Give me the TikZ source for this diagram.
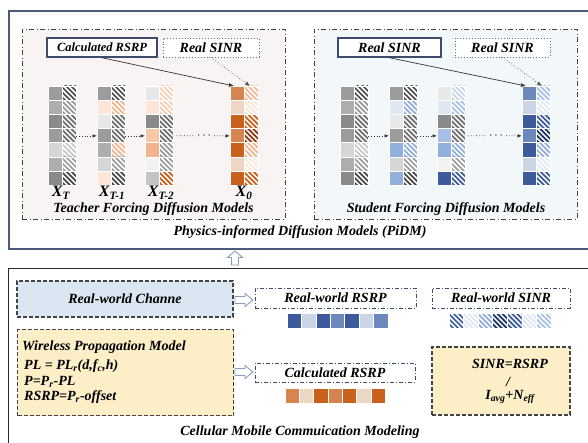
\documentclass[tikz,border=0pt]{standalone}
\usepackage{fontspec}
\setmainfont{Liberation Serif}
\usetikzlibrary{arrows.meta}

% frame and box colours
\definecolor{frameblue}{HTML}{4C5A7C}
\definecolor{framedark}{HTML}{2A2A2A}
\definecolor{paneldark}{HTML}{444444}
\definecolor{boxblue}{HTML}{3E4C6C}
\definecolor{dotblue}{HTML}{5A6A8A}
\definecolor{dashgray}{HTML}{444444}
\definecolor{arrowdark}{HTML}{333333}
\definecolor{arrowgray}{HTML}{555555}
\definecolor{hollowblue}{HTML}{8C9CBC}
\definecolor{teacherbg}{HTML}{F8F4F4}
\definecolor{studentbg}{HTML}{F2F8FA}
\definecolor{channelbg}{HTML}{DAE6F2}
\definecolor{modelbg}{HTML}{FCEFC8}
% greys
\definecolor{gA}{HTML}{8A8A8A}
\definecolor{gB}{HTML}{9C9C9C}
\definecolor{gC}{HTML}{AEAEAE}
\definecolor{gD}{HTML}{C4C4C4}
\definecolor{gE}{HTML}{D6D6D6}
\definecolor{gF}{HTML}{E8E8E8}
\definecolor{gG}{HTML}{F2F2F2}
\definecolor{hA}{HTML}{4A4A4A}
\definecolor{hB}{HTML}{6E6E6E}
\definecolor{hC}{HTML}{9A9A9A}
\definecolor{hD}{HTML}{C8C8C8}
% oranges
\definecolor{oA}{HTML}{C8601E}
\definecolor{oB}{HTML}{D5854F}
\definecolor{oC}{HTML}{F2B48E}
\definecolor{oD}{HTML}{F6C8A8}
\definecolor{oE}{HTML}{EDD6C4}
\definecolor{oF}{HTML}{FBE6D8}
\definecolor{oG}{HTML}{8A3A0E}
\definecolor{oH}{HTML}{F6CDB2}
% blues
\definecolor{bA}{HTML}{3C5A9C}
\definecolor{bB}{HTML}{6C88BC}
\definecolor{bC}{HTML}{92AEDC}
\definecolor{bD}{HTML}{A8C0E8}
\definecolor{bE}{HTML}{CCD5E6}
\definecolor{bF}{HTML}{E0E7F3}
\definecolor{bG}{HTML}{1E3466}
\definecolor{bH}{HTML}{C4D2EC}

% plain and hatched cells: x, y, width, height, colour
\newcommand\fcell[5]{%
  \fill[#5] (#1,#2) rectangle ++(#3,#4);
  \draw[white, line width=0.6pt] (#1,#2) rectangle ++(#3,#4);}
\newcommand\hcell[5]{%
  \begin{scope}
    \clip (#1,#2) rectangle ++(#3,#4);
    \fill[white] (#1,#2) rectangle ++(#3,#4);
    \foreach \k in {0,...,8}
      \draw[#5, line width=1.75pt] (#1+\k*5-22, #2-1) -- ++(20,20);
  \end{scope}
  \draw[white, line width=0.6pt] (#1,#2) rectangle ++(#3,#4);}
% a column of seven cells starting at x
\newcommand\scol[2]{\foreach \cc [count=\i from 0] in {#2} {\fcell{#1}{86+\i*14.2}{14}{14.2}{\cc}}}
\newcommand\hcol[2]{\foreach \cc [count=\i from 0] in {#2} {\hcell{#1}{86+\i*14.2}{14}{14.2}{\cc}}}

\tikzset{
  lbl/.style={font=\bfseries\itshape\fontsize{14}{16}\selectfont, inner sep=0pt},
  lblsm/.style={font=\bfseries\itshape\fontsize{12.5}{15}\selectfont, inner sep=0pt},
  xlbl/.style={font=\bfseries\itshape\fontsize{16}{18}\selectfont, inner sep=0pt},
  frametop/.style={draw=frameblue, line width=1.6pt, inner sep=0pt, anchor=north west},
  framebot/.style={draw=framedark, line width=1.4pt, inner sep=0pt, anchor=north west},
  panel/.style={draw=paneldark, line width=0.9pt, dash pattern=on 5pt off 2.5pt on 1pt off 2.5pt, inner sep=0pt, anchor=north west},
  solidbox/.style={draw=boxblue, line width=1.5pt, fill=white, inner sep=0pt},
  dotbox/.style={draw=dotblue, line width=0.9pt, dotted, fill=white, inner sep=0pt},
  dashbox/.style={draw=dashgray, line width=1.2pt, dash pattern=on 4pt off 2pt, inner sep=0pt},
  ddbox/.style={draw=boxblue, line width=1pt, dash pattern=on 4pt off 2pt on 1pt off 2pt, fill=white, inner sep=0pt},
  feed/.style={-{Latex[length=5pt,width=4pt]}, line width=0.7pt, draw=arrowdark},
  feeddot/.style={-{Latex[length=5pt,width=4pt]}, line width=0.7pt, dotted, draw=arrowgray},
  flow/.style={-{Latex[length=4.5pt,width=3.5pt]}, line width=0.7pt, dotted, draw=arrowdark},
  flowline/.style={line width=0.7pt, dotted, draw=arrowdark},
  group/.style={inner sep=0pt, minimum width=28pt, minimum height=99.4pt, anchor=north west},
  hollow/.style={draw=hollowblue, line width=0.9pt, fill=white, line join=miter},
}

\begin{document}
\begin{tikzpicture}[x=1pt,y=-1pt]
\useasboundingbox (0,0) rectangle (588,443);
\clip (0,0) rectangle (588,443);

% outer frames
\node[frametop, minimum width=600pt, minimum height=238pt] (pidm) at (8,10) {};
\node[framebot, minimum width=600pt, minimum height=200pt] (cmm) at (8,268) {};

% teacher / student panels
\node[panel, fill=teacherbg, minimum width=263pt, minimum height=190pt] (teach) at (22,29) {};
\node[panel, fill=studentbg, minimum width=263pt, minimum height=190pt] (stud) at (314,29) {};

\node[lbl] (pidmlbl) at (300,232) {Physics-informed Diffusion Models (PiDM)};
\node[lbl] (teachlbl) at (153.5,209) {Teacher Forcing Diffusion Models};
\node[lbl] (studlbl) at (446,209) {Student Forcing Diffusion Models};

% teacher forcing columns
\scol{48}{gB,gC,gA,gB,gE,gC,gA}
\hcol{62}{hA,hC,hB,hB,hD,hC,hA}
\scol{97}{gB,oF,gF,gB,gC,gE,oF}
\hcol{111}{hA,oC,hB,hB,oC,hC,hA}
\scol{145}{gF,oF,gA,oD,oC,gG,gD}
\hcol{159}{oH,oH,hB,hB,hC,hC,oA}
\scol{230}{oB,oE,oA,oB,oA,oE,oA}
\hcol{244}{oC,oF,oA,oG,oC,oF,oA}

% student forcing columns
\scol{340}{gB,gC,gA,gB,gE,gC,gA}
\hcol{354}{hA,hC,hB,hB,hD,hC,hA}
\scol{389}{gB,bF,gF,gB,bC,gE,bC}
\hcol{403}{hA,bC,hB,hB,bC,hC,hA}
\scol{437}{gF,bF,gA,bD,bC,gG,bA}
\hcol{451}{bH,bD,hB,hB,bC,hC,bA}
\scol{522}{bB,bE,bA,bB,bA,bE,bA}
\hcol{536}{bD,bF,bA,bG,bC,bF,bA}

% column groups
\foreach \n/\x in {t1/48,t2/97,t3/145,t4/230,s1/340,s2/389,s3/437,s4/522}
  \node[group] (\n) at (\x,86) {};

\node[xlbl] (xT) at (61,193) {X\textsubscript{T}};
\node[xlbl] (xT1) at (112,193) {X\textsubscript{T-1}};
\node[xlbl] (xT2) at (161,193) {X\textsubscript{T-2}};
\node[xlbl] (x0) at (244,193) {X\textsubscript{0}};

% denoising steps
\draw[flow] (t1.east) -- (t2.west);
\draw[flow] (t2.east) -- (t3.west);
\node[inner sep=0pt, minimum width=20pt, font=\fontsize{12}{12}\selectfont] (tdots) at (204,135.7) {$\cdots$};
\draw[flowline] (t3.east) -- (tdots.west);
\draw[flow] (tdots.east) -- (t4.west);

\draw[flow] (s1.east) -- (s2.west);
\draw[flow] (s2.east) -- (s3.west);
\node[inner sep=0pt, minimum width=20pt, font=\fontsize{12}{12}\selectfont] (sdots) at (496,135.7) {$\cdots$};
\draw[flowline] (s3.east) -- (sdots.west);
\draw[flow] (sdots.east) -- (s4.west);

% conditioning boxes
\node[solidbox, minimum width=110pt, minimum height=19pt, lblsm] (tcalc) at (102,47.5) {Calculated RSRP};
\node[dotbox, minimum width=96pt, minimum height=19pt, lbl] (treal) at (211,47.5) {Real SINR};
\node[solidbox, minimum width=103pt, minimum height=19pt, lbl] (sreal) at (389.5,47.5) {Real SINR};
\node[dotbox, minimum width=95pt, minimum height=19pt, lbl] (sreal2) at (502.5,47.5) {Real SINR};

\coordinate (t4a) at (234,86);
\coordinate (t4b) at (250,86);
\coordinate (s4a) at (526,86);
\coordinate (s4b) at (542,86);
\draw[feed] (tcalc.south) -- (t4a);
\draw[feeddot] (treal.south) -- (t4b);
\draw[feed] (sreal.south) -- (s4a);
\draw[feeddot] (sreal2.south) -- (s4b);

% link between the two frames
\draw[hollow] (235,258) ++(0,-7) -- ++(-7.5,6.5) -- ++(4,0) -- ++(0,7.5) -- ++(7,0) -- ++(0,-7.5) -- ++(4,0) -- cycle;

% cellular modelling part
\node[dashbox, fill=channelbg, minimum width=216pt, minimum height=36pt, lbl] (chan) at (125,299) {Real-world Channe};
\node[dashbox, fill=modelbg, minimum width=216pt, minimum height=86pt, anchor=north west] (wpm) at (17,329) {};
\node[lbl, anchor=west] (wpm1) at (22,347) {Wireless Propagation Model};
\node[lbl, anchor=west] (wpm2) at (24,366) {PL = PL\textsubscript{r}(d,f\textsubscript{c},h)};
\node[lbl, anchor=west] (wpm3) at (24,382) {P=P\textsubscript{r}-PL};
\node[lbl, anchor=west] (wpm4) at (24,397) {RSRP=P\textsubscript{r}-offset};

\node[ddbox, minimum width=161pt, minimum height=20pt, lbl] (rwrsrp) at (335.5,298) {Real-world RSRP};
\node[ddbox, minimum width=138pt, minimum height=20pt, lbl] (rwsinr) at (501,298) {Real-world SINR};
\node[ddbox, minimum width=160pt, minimum height=19pt, lbl] (crsrp) at (335,372.5) {Calculated RSRP};

\node[dashbox, fill=modelbg, minimum width=138pt, minimum height=68pt] (sinr) at (501,381) {};
\node[lbl] (sinr1) at (510,364) {SINR=RSRP};
\node[lbl] (sinr2) at (508,382) {/};
\node[lbl] (sinr3) at (510,397) {I\textsubscript{avg}+N\textsubscript{eff}};

% hollow arrows into the measurement boxes
\draw[hollow] (244,300) ++(9,0) -- ++(-8,-6.5) -- ++(0,3) -- ++(-10,0) -- ++(0,7) -- ++(10,0) -- ++(0,3) -- cycle;
\draw[hollow] (244,372) ++(9,0) -- ++(-8,-6.5) -- ++(0,3) -- ++(-10,0) -- ++(0,7) -- ++(10,0) -- ++(0,3) -- cycle;

% measurement strips
\foreach \cc [count=\i from 0] in {bA,bE,bA,bB,bA,bE,bB}
  {\fcell{287+\i*14.43}{313}{14.43}{15}{\cc}}
\foreach \cc [count=\i from 0] in {oB,oE,oA,oB,oA,oE,oA}
  {\fcell{285+\i*14.3}{388}{14.3}{15}{\cc}}
\foreach \cc [count=\i from 0] in {bA,bF,bC,bG,bA,bF,bD}
  {\hcell{449+\i*14.57}{313}{14.57}{15}{\cc}}

\node[lbl] (cmmlbl) at (300,432) {Cellular Mobile Commuication Modeling};
\end{tikzpicture}
\end{document}
